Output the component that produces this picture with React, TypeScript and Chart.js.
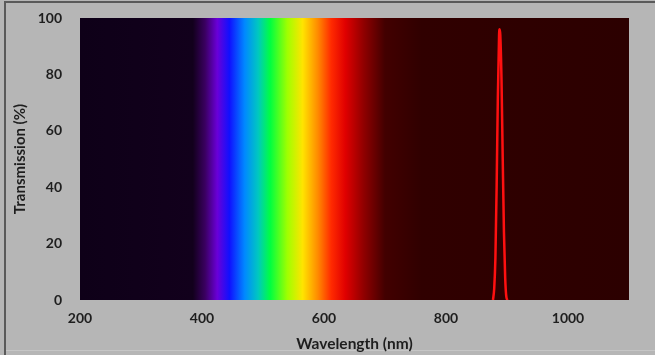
import React, { useEffect, useRef } from "react";
import { Chart, registerables } from "chart.js";

Chart.register(...registerables);

const wavelengths = [877, 879, 881, 883, 885, 887, 888, 889, 891, 893, 895, 897, 899, 901];
const transmission = [0, 4, 15, 40, 72, 94, 96, 94, 78, 50, 24, 8, 1, 0];
const xTickValues = [200, 400, 600, 800, 1000];
const yTickValues = [0, 20, 40, 60, 80, 100];

// spectrum background stops (wavelength nm, colour)
const spectrumStops: [number, string][] = [
  [200, "#0e0018"],
  [385, "#12001c"],
  [405, "#3a0060"],
  [425, "#6a00d8"],
  [445, "#1010ff"],
  [470, "#0088ff"],
  [492, "#00c8c0"],
  [512, "#00ff40"],
  [540, "#a0ff00"],
  [565, "#ffe400"],
  [590, "#ff8a00"],
  [612, "#ff2a00"],
  [635, "#e00000"],
  [665, "#900000"],
  [700, "#420000"],
  [760, "#300000"],
  [1100, "#2c0000"],
];

const FONT = "Lato, 'Open Sans', sans-serif";

export default function App() {
  const ref = useRef<HTMLCanvasElement | null>(null);

  useEffect(() => {
    document.body.style.margin = "0";
    const canvas = ref.current!;
    const bgPlugin = {
      id: "spectrumBg",
      beforeDraw(chart: any) {
        const { ctx, chartArea, scales } = chart;
        const x = scales.x;
        ctx.save();
        ctx.fillStyle = "#b6b6b6";
        ctx.fillRect(0, 0, chart.width, chart.height);
        ctx.strokeStyle = "#5a5a5a";
        ctx.lineWidth = 2;
        ctx.beginPath();
        ctx.moveTo(5, chart.height);
        ctx.lineTo(5, 2);
        ctx.lineTo(chart.width, 2);
        ctx.stroke();
        ctx.strokeStyle = "#c6c6c6";
        ctx.lineWidth = 1;
        ctx.beginPath();
        ctx.moveTo(6, 350.5);
        ctx.lineTo(chart.width, 350.5);
        ctx.stroke();
        const x0 = x.getPixelForValue(x.min);
        const x1 = x.getPixelForValue(x.max);
        const g = ctx.createLinearGradient(x0, 0, x1, 0);
        for (const [wl, c] of spectrumStops) {
          const p = (wl - x.min) / (x.max - x.min);
          g.addColorStop(Math.min(1, Math.max(0, p)), c);
        }
        ctx.fillStyle = g;
        ctx.fillRect(chartArea.left, chartArea.top, chartArea.right - chartArea.left, chartArea.bottom - chartArea.top);
        ctx.restore();
      },
    };

    const chart = new Chart(canvas, {
      type: "line",
      data: {
        datasets: [
          {
            data: wavelengths.map((w, i) => ({ x: w, y: transmission[i] })),
            borderColor: "#ff1010",
            borderWidth: 2.5,
            pointRadius: 0,
            cubicInterpolationMode: "monotone",
            fill: false,
          },
        ],
      },
      options: {
        animation: false,
        responsive: false,
        maintainAspectRatio: false,
        layout: { padding: { left: 0, right: 26, top: 18, bottom: 0 } },
        plugins: { legend: { display: false }, tooltip: { enabled: false } },
        scales: {
          x: {
            type: "linear",
            min: 200,
            max: 1100,
            afterBuildTicks: (s: any) => {
              s.ticks = xTickValues.map((v) => ({ value: v }));
            },
            afterFit: (s: any) => {
              s.height = 55;
              s.paddingLeft = 0;
              s.paddingRight = 0;
            },
            grid: { display: false, drawTicks: false },
            border: { display: false },
            ticks: {
              padding: 10,
              color: "#1e1e1e",
              font: { family: FONT, size: 14, weight: "bold" },
              maxRotation: 0,
              callback: (v: any) => String(v),
            },
            title: {
              display: true,
              text: "Wavelength (nm)",
              color: "#1e1e1e",
              font: { family: FONT, size: 15.5, weight: "bold" },
              padding: { top: 0, bottom: 2 },
            },
          },
          y: {
            min: 0,
            max: 100,
            afterBuildTicks: (s: any) => {
              s.ticks = yTickValues.map((v) => ({ value: v }));
            },
            afterFit: (s: any) => {
              s.width = 80;
              s.paddingTop = 0;
              s.paddingBottom = 0;
            },
            grid: { display: false, drawTicks: false },
            border: { display: false },
            ticks: {
              padding: 18,
              color: "#1e1e1e",
              font: { family: FONT, size: 14, weight: "bold" },
              callback: (v: any) => String(v),
            },
            title: {
              display: true,
              text: "Transmission (%)",
              color: "#1e1e1e",
              font: { family: FONT, size: 15, weight: "bold" },
              padding: { top: 11, bottom: 0 },
            },
          },
        },
      },
      plugins: [bgPlugin],
    });
    return () => chart.destroy();
  }, []);

  return (
    <div style={{ position: "absolute", left: 0, top: 0, width: 655, height: 355 }}>
      <canvas ref={ref} width={655} height={355} style={{ width: 655, height: 355, display: "block" }} />
    </div>
  );
}
